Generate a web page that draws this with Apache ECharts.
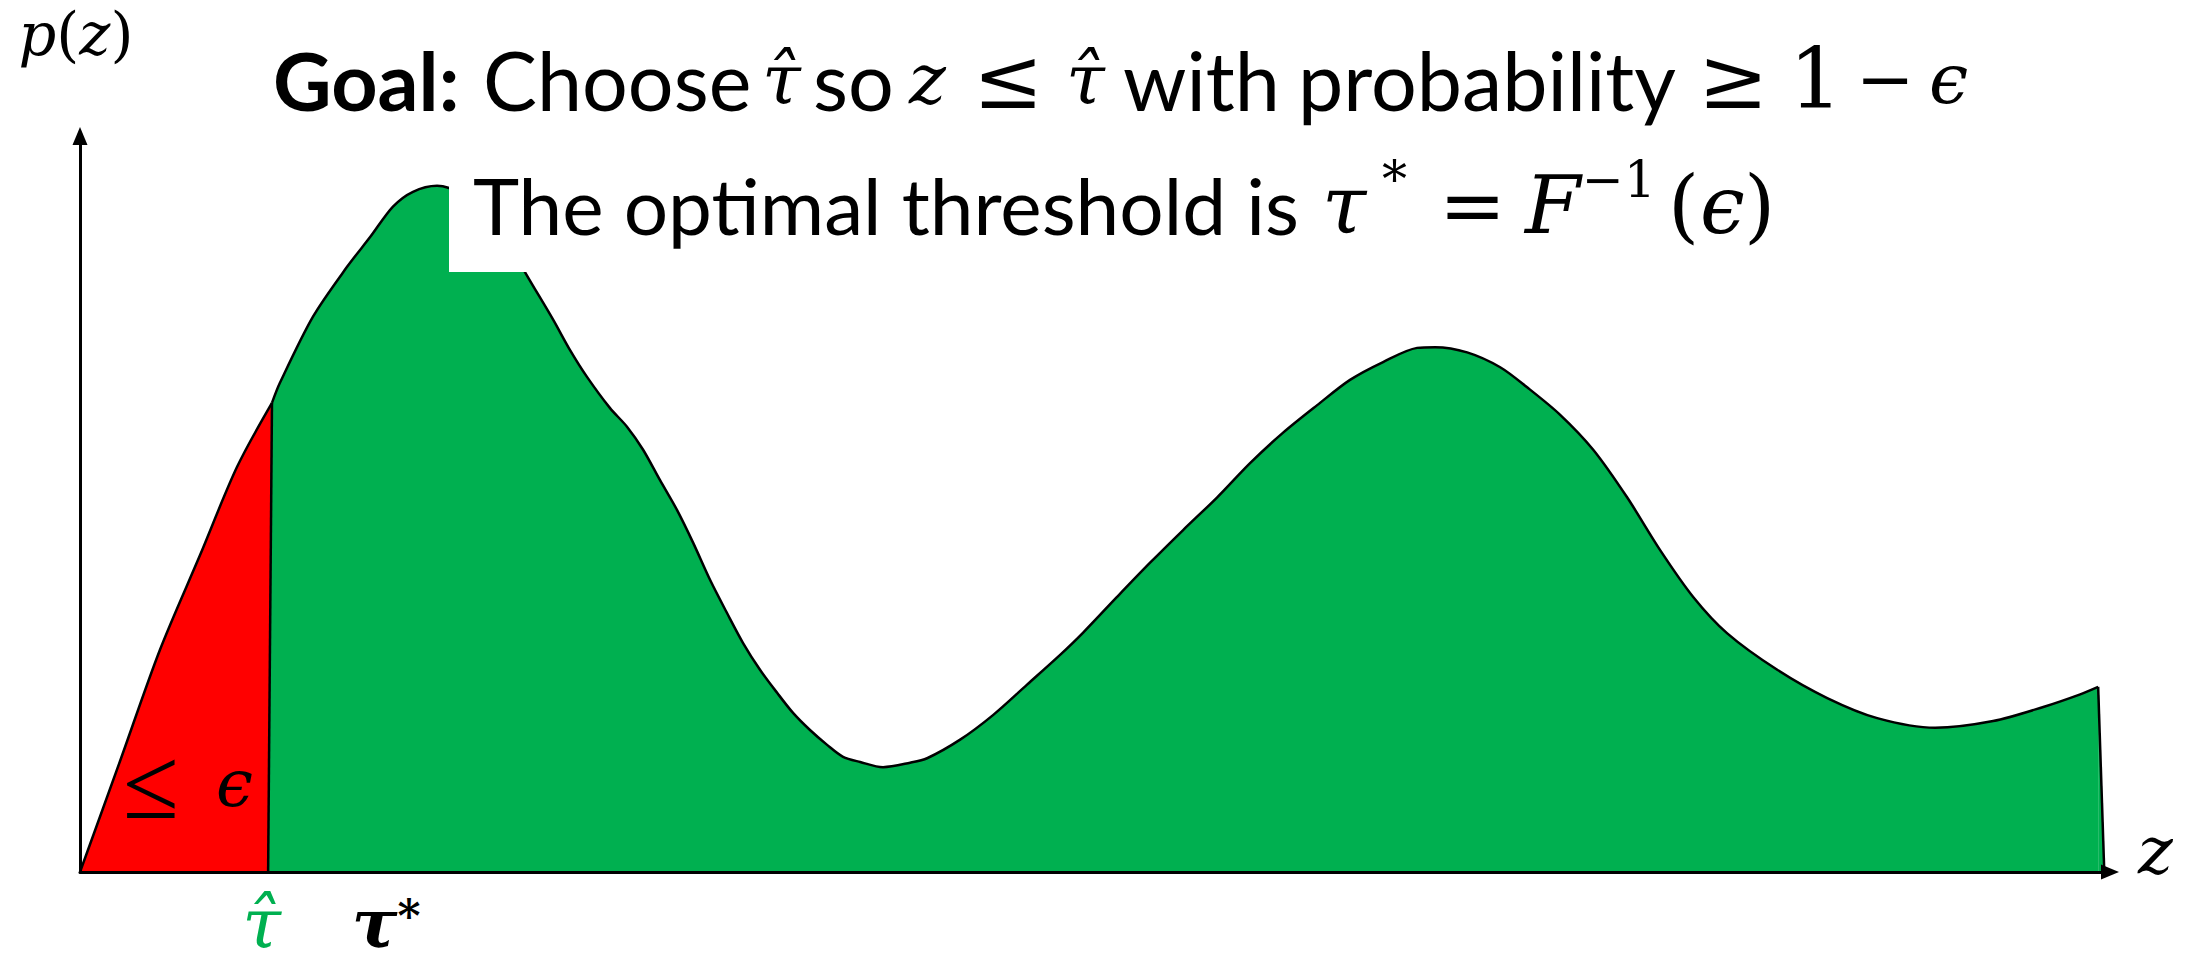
<!DOCTYPE html>
<html>
<head>
<meta charset="utf-8">
<script src="https://cdn.jsdelivr.net/npm/echarts@6/dist/echarts.min.js"></script>
<style>
  html, body { margin: 0; padding: 0; background: #ffffff; }
  #chart { width: 2189px; height: 965px; }
</style>
</head>
<body>
<div id="chart"></div>
<script>
// Density p(z): the tail up to the chosen threshold (red) ...
const tailZ = [0, 1.96, 3.92, 5.88, 7.70, 9.41];
const tailP = [0, 0.149, 0.299, 0.426, 0.545, 0.631];

// ... and the rest of the density (green).
const bodyZ = [9.41, 9.80, 11.42, 13.09, 14.22, 15.34, 16.32, 17.50, 18.09, 19.12,
  20.34, 21.18, 21.81, 23.19, 24.02, 24.85, 25.98, 26.81, 27.60, 28.43,
  29.26, 30.05, 30.88, 31.72, 32.50, 33.33, 34.17, 34.95, 35.78, 36.62,
  37.40, 38.24, 39.36, 40.69, 41.52, 43.14, 44.75, 46.42, 48.04, 49.17,
  50.83, 52.45, 54.07, 55.74, 57.35, 58.97, 60.64, 62.25, 63.87, 65.54,
  66.42, 67.99, 69.61, 70.93, 72.55, 74.17, 75.83, 77.45, 79.07, 80.74,
  83.19, 85.64, 88.09, 90.93, 93.77, 96.23, 98.04, 98.92];
const bodyP = [0.631, 0.658, 0.747, 0.814, 0.854, 0.895, 0.915, 0.923, 0.920, 0.908,
  0.877, 0.839, 0.807, 0.743, 0.702, 0.666, 0.624, 0.599, 0.568, 0.527,
  0.487, 0.443, 0.393, 0.348, 0.308, 0.272, 0.241, 0.214, 0.191, 0.171,
  0.155, 0.148, 0.141, 0.147, 0.153, 0.178, 0.211, 0.252, 0.292, 0.322,
  0.370, 0.416, 0.460, 0.504, 0.550, 0.591, 0.628, 0.662, 0.686, 0.705,
  0.706, 0.699, 0.679, 0.652, 0.615, 0.568, 0.504, 0.433, 0.370, 0.321,
  0.272, 0.234, 0.207, 0.194, 0.203, 0.222, 0.239, 0.249];

// Straight closing edges: the cut at the threshold and the right-hand end.
const cutZ = [9.41, 9.22];
const cutP = [0.631, 0];
const endZ = [98.92, 99.22];
const endP = [0.249, 0];

// Threshold markers below the z axis.
const thresholdNames = ['hat', 'star'];
const thresholdZ = [8.9, 15.0];

// Headline pieces: [style, text, advance in px (null = natural)].
const goalPieces = [
  ['b', 'Goal:', 210], ['t', 'Choose', 279], ['m', 'τ\u0302', 51], ['t', 'so', 96],
  ['m', 'z', 64], ['s', '≤', 93], ['m', 'τ\u0302', 57], ['t', 'with', 175],
  ['t', 'probability', 400], ['s', '≥', 91], ['s', '1', 67], ['n', '−', 73], ['m', 'ϵ', null]
];
const optimalPieces = [
  ['t', 'The optimal threshold is', 849], ['m', 'τ', 60], ['sup', '*', 57], ['s', '=', 86],
  ['m', 'F', 57], ['sup', '−1', 86], ['s', '(', 32], ['m', 'ϵ', 44], ['s', ')', null]
];
const tailPieces = [['le', '≤', 93], ['m', 'ϵ', null]];

const GREEN = '#00B050';
const RED = '#FF0000';
const SANS = 'Lato';
const MATH = 'DejaVu Serif';
const MATH_THIN = 'Liberation Serif';
const N = 'normal';

const zip = (xs, ys) => xs.map((x, i) => [x, ys[i]]);

// Size the sans text so a reference word spans the wanted width.
const measureCtx = document.createElement('canvas').getContext('2d');
function sizeFor(text, wantedWidth) {
  measureCtx.font = 'normal normal 100px ' + SANS;
  return 100 * wantedWidth / measureCtx.measureText(text).width;
}
const goalSize = sizeFor('probability', 378);
const optimalSize = sizeFor('The optimal threshold is', 826);

// Turn a list of pieces into one rich-text string with a fixed advance per piece.
function richLine(pieces, styles) {
  const rich = {};
  const text = pieces.map(([kind, str, w], i) => {
    const key = 'p' + i;
    rich[key] = Object.assign({}, styles[kind], w == null ? {} : { width: w });
    return '{' + key + '|' + str + '}';
  }).join('');
  return { text, rich };
}

const goalStyles = {
  b: { fontFamily: SANS, fontWeight: 'bold', fontSize: goalSize, lineHeight: 100, color: '#000' },
  t: { fontFamily: SANS, fontWeight: N, fontSize: goalSize, lineHeight: 100, color: '#000' },
  m: { fontFamily: MATH, fontWeight: N, fontStyle: 'italic', fontSize: 70, lineHeight: 100, color: '#000' },
  s: { fontFamily: MATH, fontWeight: N, fontSize: 84, lineHeight: 100, color: '#000' },
  n: { fontFamily: MATH, fontWeight: N, fontSize: 70, lineHeight: 100, color: '#000' }
};
const optimalStyles = {
  t: { fontFamily: SANS, fontWeight: N, fontSize: optimalSize, lineHeight: 100, color: '#000' },
  m: { fontFamily: MATH, fontWeight: N, fontStyle: 'italic', fontSize: 80, lineHeight: 100, color: '#000' },
  s: { fontFamily: MATH, fontWeight: N, fontSize: 80, lineHeight: 100, color: '#000' },
  sup: { fontFamily: MATH, fontWeight: N, fontSize: 50, lineHeight: 50, verticalAlign: 'top', color: '#000' }
};
const tailStyles = {
  le: { fontFamily: MATH_THIN, fontWeight: N, fontSize: 102, lineHeight: 100, color: '#000' },
  m: { fontFamily: MATH, fontWeight: N, fontStyle: 'italic', fontSize: 66, lineHeight: 100, color: '#000' }
};

const goalLine = richLine(goalPieces, goalStyles);
const optimalLine = richLine(optimalPieces, optimalStyles);
const tailLine = richLine(tailPieces, tailStyles);

const axisMath = (size, lh) => ({
  m: { fontFamily: MATH, fontWeight: N, fontStyle: 'italic', fontSize: size, lineHeight: lh, color: '#000' },
  s: { fontFamily: MATH, fontWeight: N, fontSize: size, lineHeight: lh, color: '#000' }
});

const chart = echarts.init(document.getElementById('chart'), null, { renderer: 'svg' });

chart.setOption({
  animation: false,
  backgroundColor: '#ffffff',
  grid: { left: 80, right: 79, top: 136, bottom: 93, containLabel: false },
  xAxis: {
    type: 'value', min: 0, max: 99.5, z: 5,
    name: '{m|z}', nameLocation: 'end', nameGap: 28,
    nameTextStyle: { padding: [0, 0, 44, 0], rich: axisMath(66, 70) },
    axisLine: { show: true, onZero: false, symbol: ['none', 'triangle'], symbolSize: [15, 18],
      lineStyle: { color: '#000', width: 3 } },
    axisTick: { show: false }, axisLabel: { show: false }, splitLine: { show: false }
  },
  yAxis: {
    type: 'value', min: 0, max: 0.99, z: 5,
    name: '{m|p}{s|(}{m|z}{s|)}', nameLocation: 'end', nameGap: 70,
    nameTextStyle: { padding: [0, 8, 0, 0], rich: axisMath(59, 64) },
    axisLine: { show: true, onZero: false, symbol: ['none', 'triangle'], symbolSize: [15, 18],
      lineStyle: { color: '#000', width: 3 } },
    axisTick: { show: false }, axisLabel: { show: false }, splitLine: { show: false }
  },
  title: [
    {
      left: 273, top: 29, padding: 0,
      text: goalLine.text,
      textStyle: { fontFamily: SANS, fontWeight: N, fontSize: goalSize, lineHeight: 100, color: '#000', rich: goalLine.rich }
    },
    {
      left: 449, top: 145, padding: [10, 40, 17, 24], backgroundColor: '#ffffff',
      text: optimalLine.text,
      textStyle: { fontFamily: SANS, fontWeight: N, fontSize: optimalSize, lineHeight: 100, color: '#000', rich: optimalLine.rich }
    },
    {
      left: 123, top: 733, padding: 0,
      text: tailLine.text,
      textStyle: { fontWeight: N, fontSize: 80, lineHeight: 100, rich: tailLine.rich }
    }
  ],
  series: [
    {
      type: 'line', name: 'tail', data: zip(tailZ, tailP), smooth: 0.3,
      symbol: 'none', z: 2,
      lineStyle: { color: '#000', width: 2.5 },
      areaStyle: { color: RED, opacity: 1 }
    },
    {
      type: 'line', name: 'body', data: zip(bodyZ, bodyP), smooth: 0.3,
      symbol: 'none', z: 2,
      lineStyle: { color: '#000', width: 2.5 },
      areaStyle: { color: GREEN, opacity: 1 }
    },
    {
      type: 'line', name: 'cut', data: zip(cutZ, cutP), smooth: false,
      symbol: 'none', z: 3,
      lineStyle: { color: '#000', width: 2.5 },
      areaStyle: { color: GREEN, opacity: 1 }
    },
    {
      type: 'line', name: 'end', data: zip(endZ, endP), smooth: false,
      symbol: 'none', z: 3,
      lineStyle: { color: '#000', width: 2.5 },
      areaStyle: { color: GREEN, opacity: 1 }
    },
    {
      type: 'scatter', name: 'thresholds', z: 4, clip: false,
      data: thresholdZ.map((z, i) => ({
        value: [z, 0], name: thresholdNames[i],
        label: { distance: i === 0 ? 20 : 22 }
      })),
      symbolSize: 1, itemStyle: { color: 'rgba(0,0,0,0)' },
      label: {
        show: true, position: 'bottom', opacity: 1,
        formatter: p => p.name === 'hat' ? '{g|τ\u0302}' : '{k|τ}{ks|*}',
        rich: {
          g: { fontFamily: MATH, fontWeight: N, fontStyle: 'italic', fontSize: 70, lineHeight: 60, color: GREEN },
          k: { fontFamily: MATH, fontStyle: 'italic', fontWeight: 'bold', fontSize: 68, lineHeight: 56, color: '#000' },
          ks: { fontFamily: MATH, fontWeight: 'bold', fontSize: 44, lineHeight: 28, verticalAlign: 'top', color: '#000' }
        }
      }
    }
  ]
});
</script>
</body>
</html>
